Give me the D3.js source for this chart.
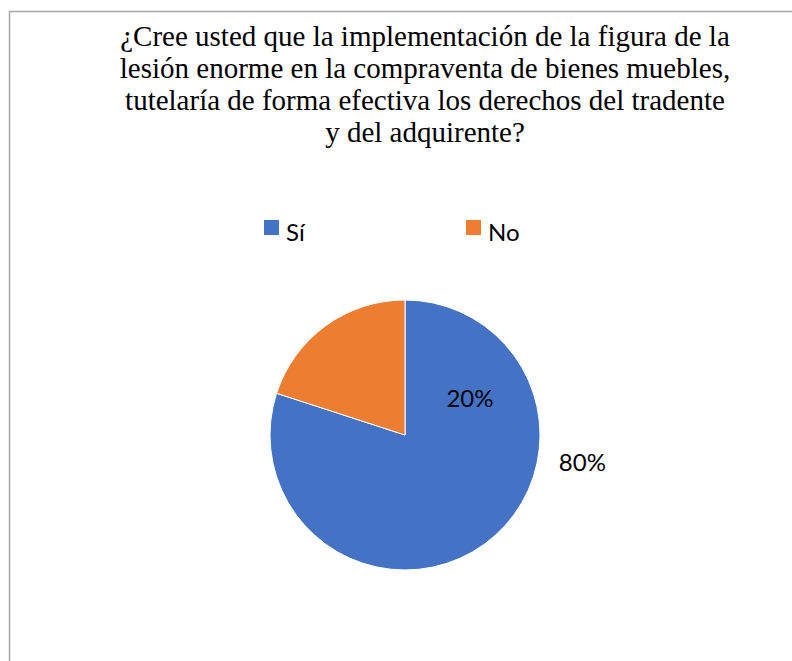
<!DOCTYPE html>
<html>
<head>
<meta charset="utf-8">
<script src="https://cdn.jsdelivr.net/npm/d3@7"></script>
<style>
  body { margin: 0; background: #fff; }
  svg { display: block; }
</style>
</head>
<body>
<svg id="chart" width="792" height="661"></svg>
<script>
// data
var categories = ["Sí", "No"];
var values = [80, 20];
var colors = ["#4472C4", "#ED7D31"];
var titleLines = [
  "¿Cree usted que la implementación de la figura de la",
  "lesión enorme en la compraventa de bienes muebles,",
  "tutelaría de forma efectiva los derechos del tradente",
  "y del adquirente?"
];

// where excel dropped the labels (degrees clockwise from top, fraction of radius)
var labelPlace = [
  { angle: 99, dist: 1.33 },
  { angle: 61, dist: 0.55 }
];

var svg = d3.select("#chart");
var W = 792, H = 661;

// chart frame, only left & top edges show
svg.append("rect")
  .attr("x", 9.5).attr("y", 11.5)
  .attr("width", W + 20).attr("height", H + 20)
  .attr("fill", "#fff")
  .attr("stroke", "#A6A6A6")
  .attr("stroke-width", 1.5);

// title
svg.append("g").selectAll("text")
  .data(titleLines)
  .enter()
  .append("text")
  .attr("x", 425)
  .attr("y", (d, i) => 46 + i * 32)
  .attr("text-anchor", "middle")
  .style("font-family", "'Liberation Serif', 'Times New Roman', serif")
  .style("font-size", "29px")
  .attr("fill", "#000")
  .text(d => d);

// legend
var legX = d3.scalePoint().domain(categories).range([264, 466]);
var leg = svg.append("g").selectAll("g")
  .data(categories)
  .enter()
  .append("g")
  .attr("transform", d => "translate(" + legX(d) + ",220)");
leg.append("rect")
  .attr("width", 15).attr("height", 15)
  .attr("fill", (d, i) => colors[i]);
leg.append("text")
  .attr("x", 22).attr("y", 21)
  .style("font-family", "Lato, Carlito, Calibri, sans-serif")
  .style("font-size", "24px")
  .attr("fill", "#000")
  .text(d => d);

// pie
var cx = 405, cy = 435, R = 135;
var pie = d3.pie().sort(null).value(d => d);
var arcs = pie(values);
var arc = d3.arc().innerRadius(0).outerRadius(R);

var g = svg.append("g").attr("transform", "translate(" + cx + "," + cy + ")");
g.selectAll("path")
  .data(arcs)
  .enter()
  .append("path")
  .attr("d", arc)
  .attr("fill", (d, i) => colors[i])
  .attr("stroke", "#fff")
  .attr("stroke-width", 1);

var total = d3.sum(values);
g.selectAll("text.lbl")
  .data(arcs)
  .enter()
  .append("text")
  .attr("class", "lbl")
  .attr("x", (d, i) => Math.sin(labelPlace[i].angle * Math.PI / 180) * R * labelPlace[i].dist)
  .attr("y", (d, i) => -Math.cos(labelPlace[i].angle * Math.PI / 180) * R * labelPlace[i].dist)
  .attr("text-anchor", "middle")
  .attr("dy", "0.35em")
  .style("font-family", "Lato, Carlito, Calibri, sans-serif")
  .style("font-size", "24px")
  .attr("fill", "#000")
  .text(d => Math.round(d.value / total * 100) + "%");
</script>
</body>
</html>
